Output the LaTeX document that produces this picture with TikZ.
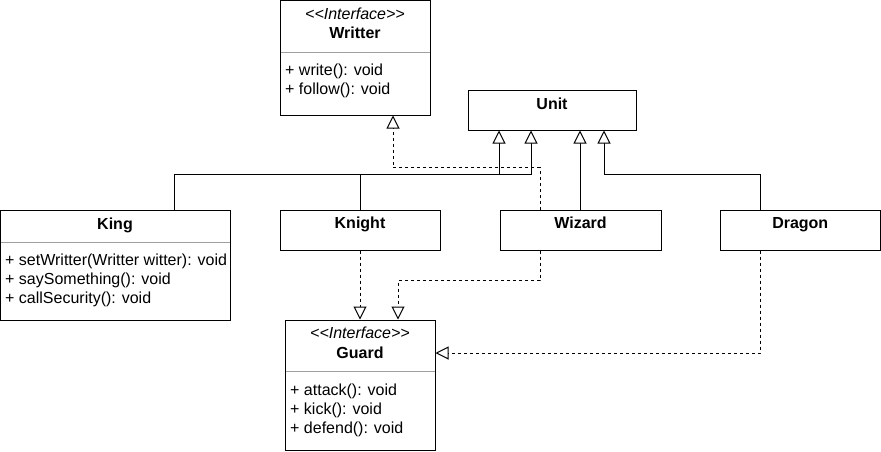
\documentclass[tikz,border=0pt]{standalone}
\usepackage{fontspec}
\setmainfont{Liberation Sans}
\usetikzlibrary{arrows.meta}
\definecolor{sepgray}{RGB}{160,160,160}
\begin{document}
\begin{tikzpicture}[x=1pt,y=-1pt,
  box/.style={draw, line width=1pt, inner sep=0pt},
  txt/.style={inner sep=0pt, font=\fontsize{16}{19}\selectfont, text height=11.5pt, text depth=0pt},
  sep/.style={draw=sepgray, line width=1pt},
  inh/.style={line width=1pt, -{Triangle[open, width=13pt, length=13pt, fill=white]}},
  real/.style={inh, dash pattern=on 3pt off 3pt}]
\useasboundingbox (0,0) rectangle (881,451);
% boxes
\node[box, minimum width=150pt, minimum height=114.5pt] (writter) at (355,57.75) {};
\node[box, minimum width=168pt, minimum height=40pt] (unit) at (552,110) {};
\node[box, minimum width=229.5pt, minimum height=110pt] (king) at (115.25,265) {};
\node[box, minimum width=160pt, minimum height=40pt] (knight) at (360,230) {};
\node[box, minimum width=161pt, minimum height=40pt] (wizard) at (580.5,230) {};
\node[box, minimum width=160.5pt, minimum height=40pt] (dragon) at (800.25,230) {};
\node[box, minimum width=150pt, minimum height=130pt] (guard) at (360,385) {};
% separators
\draw[sep] (280.5,52) -- (429.5,52);
\draw[sep] (1,242) -- (229.5,242);
\draw[sep] (285.5,371) -- (434.5,371);
% texts
\node[txt] (writterS) at (355,14) {\itshape <\kern0pt<Interface>\kern0pt>};
\node[txt] (writterN) at (355,33) {\bfseries Writter};
\node[txt, anchor=west] (writterM1) at (285,70) {+ write(): void};
\node[txt, anchor=west] (writterM2) at (285,89) {+ follow(): void};
\node[txt] (unitN) at (552,104) {\bfseries Unit};
\node[txt] (kingN) at (115,224) {\bfseries King};
\node[txt, anchor=west] (kingM1) at (5,260) {+ setWritter(Writter witter): void};
\node[txt, anchor=west] (kingM2) at (5,279) {+ saySomething(): void};
\node[txt, anchor=west] (kingM3) at (5,298) {+ callSecurity(): void};
\node[txt] (knightN) at (360,223) {\bfseries Knight};
\node[txt] (wizardN) at (580.5,223) {\bfseries Wizard};
\node[txt] (dragonN) at (800.25,223) {\bfseries Dragon};
\node[txt] (guardS) at (360,333) {\itshape <\kern0pt<Interface>\kern0pt>};
\node[txt] (guardN) at (360,353) {\bfseries Guard};
\node[txt, anchor=west] (guardM1) at (290,390) {+ attack(): void};
\node[txt, anchor=west] (guardM2) at (290,409) {+ kick(): void};
\node[txt, anchor=west] (guardM3) at (290,428) {+ defend(): void};
% inheritance
\draw[inh] ([xshift=58.75pt]king.north) -- ++(0,-35) -| ([xshift=-21pt]unit.south);
\draw[inh] (knight.north) -- ++(0,-35) -| ([xshift=-53pt]unit.south);
\draw[inh] ([xshift=-0.5pt]wizard.north) -- ([xshift=28pt]unit.south);
\draw[inh] ([xshift=-40.25pt]dragon.north) -- ++(0,-35) -| ([xshift=52pt]unit.south);
% realization
\draw[real] ([xshift=-40.5pt]wizard.north) -- ++(0,-42) -| ([xshift=38pt]writter.south);
\draw[real] (knight.south) -- (guard.north);
\draw[real] ([xshift=-40.5pt]wizard.south) -- ++(0,30) -| ([xshift=38pt]guard.north);
\draw[real] ([xshift=-40.25pt]dragon.south) |- ([yshift=32pt]guard.east);
\end{tikzpicture}
\end{document}
